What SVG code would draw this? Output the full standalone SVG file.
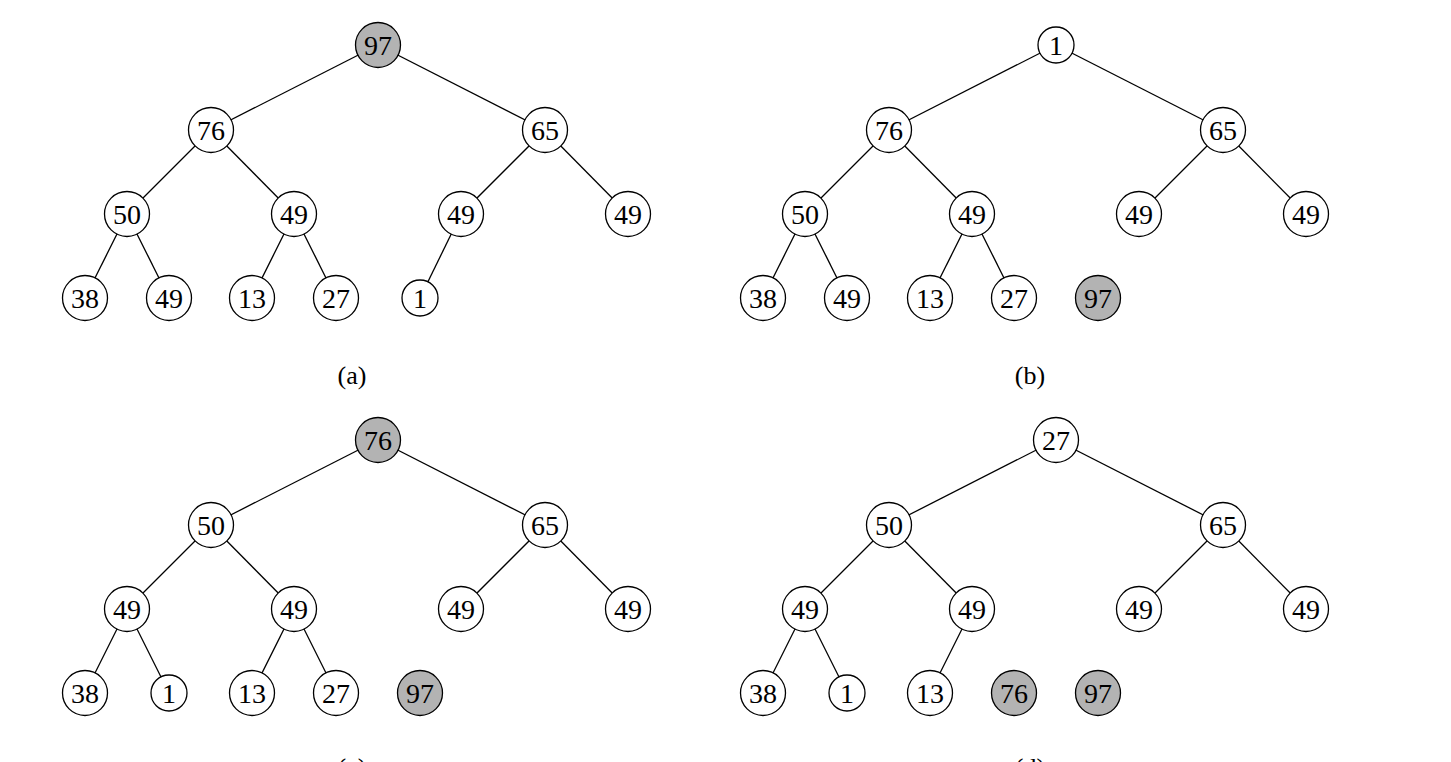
<svg xmlns="http://www.w3.org/2000/svg" width="1451" height="762" viewBox="0 0 1451 762">
<defs>
<style>
.e line{stroke:#000;stroke-width:1.3}
.n circle{fill:#fff;stroke:#000;stroke-width:1.3}
.n.g circle{fill:#b3b3b3}
.n text{font-family:"Liberation Serif","DejaVu Serif",serif;font-size:28px;text-anchor:middle;fill:#000}
.cap{font-family:"Liberation Serif","DejaVu Serif",serif;font-size:26px;text-anchor:middle;fill:#000}
</style>
</defs>
<rect width="1451" height="762" fill="#fff"/>
<g id="connectors" class="e">
<line x1="378" y1="45" x2="211" y2="130"/><line x1="378" y1="45" x2="545" y2="130"/>
<line x1="211" y1="130" x2="127" y2="214"/><line x1="211" y1="130" x2="294" y2="214"/>
<line x1="545" y1="130" x2="461" y2="214"/><line x1="545" y1="130" x2="628" y2="214"/>
<line x1="127" y1="214" x2="85" y2="298"/><line x1="127" y1="214" x2="169" y2="298"/>
<line x1="294" y1="214" x2="252" y2="298"/><line x1="294" y1="214" x2="336" y2="298"/>
<line x1="461" y1="214" x2="420" y2="298"/>
<line x1="1056" y1="45" x2="889" y2="130"/><line x1="1056" y1="45" x2="1223" y2="130"/>
<line x1="889" y1="130" x2="805" y2="214"/><line x1="889" y1="130" x2="972" y2="214"/>
<line x1="1223" y1="130" x2="1139" y2="214"/><line x1="1223" y1="130" x2="1306" y2="214"/>
<line x1="805" y1="214" x2="763" y2="298"/><line x1="805" y1="214" x2="847" y2="298"/>
<line x1="972" y1="214" x2="930" y2="298"/><line x1="972" y1="214" x2="1014" y2="298"/>
<line x1="378" y1="440" x2="211" y2="525"/><line x1="378" y1="440" x2="545" y2="525"/>
<line x1="211" y1="525" x2="127" y2="609"/><line x1="211" y1="525" x2="294" y2="609"/>
<line x1="545" y1="525" x2="461" y2="609"/><line x1="545" y1="525" x2="628" y2="609"/>
<line x1="127" y1="609" x2="85" y2="693"/><line x1="127" y1="609" x2="169" y2="693"/>
<line x1="294" y1="609" x2="252" y2="693"/><line x1="294" y1="609" x2="336" y2="693"/>
<line x1="1056" y1="440" x2="889" y2="525"/><line x1="1056" y1="440" x2="1223" y2="525"/>
<line x1="889" y1="525" x2="805" y2="609"/><line x1="889" y1="525" x2="972" y2="609"/>
<line x1="1223" y1="525" x2="1139" y2="609"/><line x1="1223" y1="525" x2="1306" y2="609"/>
<line x1="805" y1="609" x2="763" y2="693"/><line x1="805" y1="609" x2="847" y2="693"/>
<line x1="972" y1="609" x2="930" y2="693"/>
</g>
<g id="a-root" class="n g"><circle cx="378" cy="45" r="22.5"/><text x="378" y="55">97</text></g>
<g id="a-76" class="n"><circle cx="211" cy="130" r="22.5"/><text x="211" y="140">76</text></g>
<g id="a-65" class="n"><circle cx="545" cy="130" r="22.5"/><text x="545" y="140">65</text></g>
<g id="a-50" class="n"><circle cx="127" cy="214" r="22.5"/><text x="127" y="224">50</text></g>
<g id="a-49a" class="n"><circle cx="294" cy="214" r="22.5"/><text x="294" y="224">49</text></g>
<g id="a-49b" class="n"><circle cx="461" cy="214" r="22.5"/><text x="461" y="224">49</text></g>
<g id="a-49c" class="n"><circle cx="628" cy="214" r="22.5"/><text x="628" y="224">49</text></g>
<g id="a-38" class="n"><circle cx="85" cy="298" r="22.5"/><text x="85" y="308">38</text></g>
<g id="a-49d" class="n"><circle cx="169" cy="298" r="22.5"/><text x="169" y="308">49</text></g>
<g id="a-13" class="n"><circle cx="252" cy="298" r="22.5"/><text x="252" y="308">13</text></g>
<g id="a-27" class="n"><circle cx="336" cy="298" r="22.5"/><text x="336" y="308">27</text></g>
<g id="a-1" class="n"><circle cx="420" cy="298" r="18"/><text x="420" y="308">1</text></g>
<g id="b-root" class="n"><circle cx="1056" cy="45" r="18"/><text x="1056" y="55">1</text></g>
<g id="b-76" class="n"><circle cx="889" cy="130" r="22.5"/><text x="889" y="140">76</text></g>
<g id="b-65" class="n"><circle cx="1223" cy="130" r="22.5"/><text x="1223" y="140">65</text></g>
<g id="b-50" class="n"><circle cx="805" cy="214" r="22.5"/><text x="805" y="224">50</text></g>
<g id="b-49a" class="n"><circle cx="972" cy="214" r="22.5"/><text x="972" y="224">49</text></g>
<g id="b-49b" class="n"><circle cx="1139" cy="214" r="22.5"/><text x="1139" y="224">49</text></g>
<g id="b-49c" class="n"><circle cx="1306" cy="214" r="22.5"/><text x="1306" y="224">49</text></g>
<g id="b-38" class="n"><circle cx="763" cy="298" r="22.5"/><text x="763" y="308">38</text></g>
<g id="b-49d" class="n"><circle cx="847" cy="298" r="22.5"/><text x="847" y="308">49</text></g>
<g id="b-13" class="n"><circle cx="930" cy="298" r="22.5"/><text x="930" y="308">13</text></g>
<g id="b-27" class="n"><circle cx="1014" cy="298" r="22.5"/><text x="1014" y="308">27</text></g>
<g id="b-97" class="n g"><circle cx="1098" cy="298" r="22.5"/><text x="1098" y="308">97</text></g>
<g id="c-root" class="n g"><circle cx="378" cy="440" r="22.5"/><text x="378" y="450">76</text></g>
<g id="c-50" class="n"><circle cx="211" cy="525" r="22.5"/><text x="211" y="535">50</text></g>
<g id="c-65" class="n"><circle cx="545" cy="525" r="22.5"/><text x="545" y="535">65</text></g>
<g id="c-49a" class="n"><circle cx="127" cy="609" r="22.5"/><text x="127" y="619">49</text></g>
<g id="c-49b" class="n"><circle cx="294" cy="609" r="22.5"/><text x="294" y="619">49</text></g>
<g id="c-49c" class="n"><circle cx="461" cy="609" r="22.5"/><text x="461" y="619">49</text></g>
<g id="c-49d" class="n"><circle cx="628" cy="609" r="22.5"/><text x="628" y="619">49</text></g>
<g id="c-38" class="n"><circle cx="85" cy="693" r="22.5"/><text x="85" y="703">38</text></g>
<g id="c-1" class="n"><circle cx="169" cy="693" r="18"/><text x="169" y="703">1</text></g>
<g id="c-13" class="n"><circle cx="252" cy="693" r="22.5"/><text x="252" y="703">13</text></g>
<g id="c-27" class="n"><circle cx="336" cy="693" r="22.5"/><text x="336" y="703">27</text></g>
<g id="c-97" class="n g"><circle cx="420" cy="693" r="22.5"/><text x="420" y="703">97</text></g>
<g id="d-root" class="n"><circle cx="1056" cy="440" r="22.5"/><text x="1056" y="450">27</text></g>
<g id="d-50" class="n"><circle cx="889" cy="525" r="22.5"/><text x="889" y="535">50</text></g>
<g id="d-65" class="n"><circle cx="1223" cy="525" r="22.5"/><text x="1223" y="535">65</text></g>
<g id="d-49a" class="n"><circle cx="805" cy="609" r="22.5"/><text x="805" y="619">49</text></g>
<g id="d-49b" class="n"><circle cx="972" cy="609" r="22.5"/><text x="972" y="619">49</text></g>
<g id="d-49c" class="n"><circle cx="1139" cy="609" r="22.5"/><text x="1139" y="619">49</text></g>
<g id="d-49d" class="n"><circle cx="1306" cy="609" r="22.5"/><text x="1306" y="619">49</text></g>
<g id="d-38" class="n"><circle cx="763" cy="693" r="22.5"/><text x="763" y="703">38</text></g>
<g id="d-1" class="n"><circle cx="847" cy="693" r="18"/><text x="847" y="703">1</text></g>
<g id="d-13" class="n"><circle cx="930" cy="693" r="22.5"/><text x="930" y="703">13</text></g>
<g id="d-76" class="n g"><circle cx="1014" cy="693" r="22.5"/><text x="1014" y="703">76</text></g>
<g id="d-97" class="n g"><circle cx="1098" cy="693" r="22.5"/><text x="1098" y="703">97</text></g>
<text class="cap" x="352" y="384">(a)</text>
<text class="cap" x="1030" y="384">(b)</text>
<text class="cap" x="352" y="776">(c)</text>
<text class="cap" x="1030" y="776">(d)</text>
</svg>
